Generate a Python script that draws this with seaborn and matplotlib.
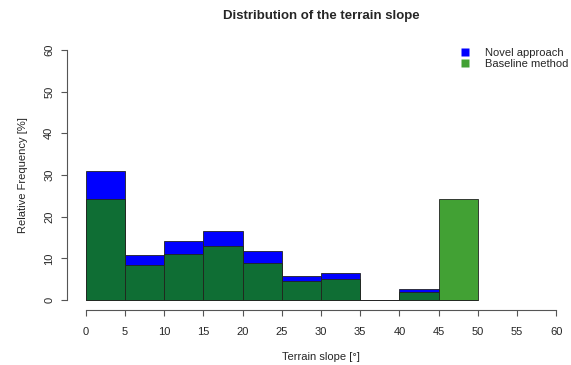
import numpy as np
import pandas as pd
import matplotlib
matplotlib.use("Agg")
import matplotlib.pyplot as plt
from matplotlib.lines import Line2D
import seaborn as sns

# ---- data ----
bin_edges = [0, 5, 10, 15, 20, 25, 30, 35, 40, 45, 50]
bin_centers = [2.5, 7.5, 12.5, 17.5, 22.5, 27.5, 32.5, 37.5, 42.5, 47.5]
novel_pct = [30.9, 10.8, 14.2, 16.6, 11.7, 5.8, 6.6, 0.0, 2.6, 0.0]
baseline_pct = [24.2, 8.4, 11.0, 13.0, 9.0, 4.5, 5.1, 0.0, 1.9, 24.2]
x_ticks = [0, 5, 10, 15, 20, 25, 30, 35, 40, 45, 50, 55, 60]
y_ticks = [0, 10, 20, 30, 40, 50, 60]
series_names = ["Novel approach", "Baseline method"]

BLUE = (0, 0, 1)
GREEN = (19 / 255, 138 / 255, 1 / 255)
GREEN_ALPHA = 0.8

sns.set_style("white")
plt.rcParams["font.family"] = ["Liberation Sans", "DejaVu Sans"]

fig = plt.figure(figsize=(5.71, 3.65), dpi=100)
ax = fig.add_axes([67 / 571, 1 - 310 / 365, 508 / 571, 270 / 365])

df = pd.DataFrame({"x": bin_centers, "novel": novel_pct, "base": baseline_pct})
sns.histplot(data=df, x="x", weights="novel", bins=bin_edges, ax=ax,
             color=BLUE, alpha=1.0, edgecolor="#222222", linewidth=0.6)
sns.histplot(data=df, x="x", weights="base", bins=bin_edges, ax=ax,
             color=GREEN, alpha=GREEN_ALPHA, edgecolor="#222222", linewidth=0.6)

ax.set_xlim(-2.4, 62.4)
ax.set_ylim(-2.4, 62.4)
ax.set_xticks(x_ticks)
ax.set_yticks(y_ticks)
ax.set_yticklabels([str(v) for v in y_ticks], rotation=90, va="center")
for s in ["top", "right"]:
    ax.spines[s].set_visible(False)
ax.spines["left"].set_bounds(0, 60)
ax.spines["bottom"].set_bounds(0, 60)
for s in ["left", "bottom"]:
    ax.spines[s].set_color("#555555")
    ax.spines[s].set_linewidth(0.8)
ax.tick_params(axis="both", direction="out", length=4.5, width=0.8,
               color="#555555", labelsize=8, left=True, bottom=True)
ax.tick_params(axis="x", pad=7.7)
ax.tick_params(axis="y", pad=4.7)

ax.set_xlabel("Terrain slope [°]", fontsize=8, labelpad=11)
ax.set_ylabel("Relative Frequency [%]", fontsize=8, labelpad=11.7)
fig.text(321 / 571, 1 - 15.5 / 365, "Distribution of the terrain slope",
         ha="center", va="center", fontsize=9.5, fontweight="bold")

handles = [
    Line2D([], [], marker="s", linestyle="none", markersize=5.5,
           markerfacecolor=BLUE, markeredgecolor="none"),
    Line2D([], [], marker="s", linestyle="none", markersize=5.5,
           markerfacecolor=GREEN, markeredgecolor="none", alpha=GREEN_ALPHA),
]
leg = fig.legend(handles, series_names, loc="upper left",
                 bbox_to_anchor=(453.2 / 571, 1 - 42 / 365), frameon=False,
                 fontsize=8, handlelength=1.2, handletextpad=1.16,
                 labelspacing=0.15, borderpad=0)

fig.savefig("out.png", dpi=100)
